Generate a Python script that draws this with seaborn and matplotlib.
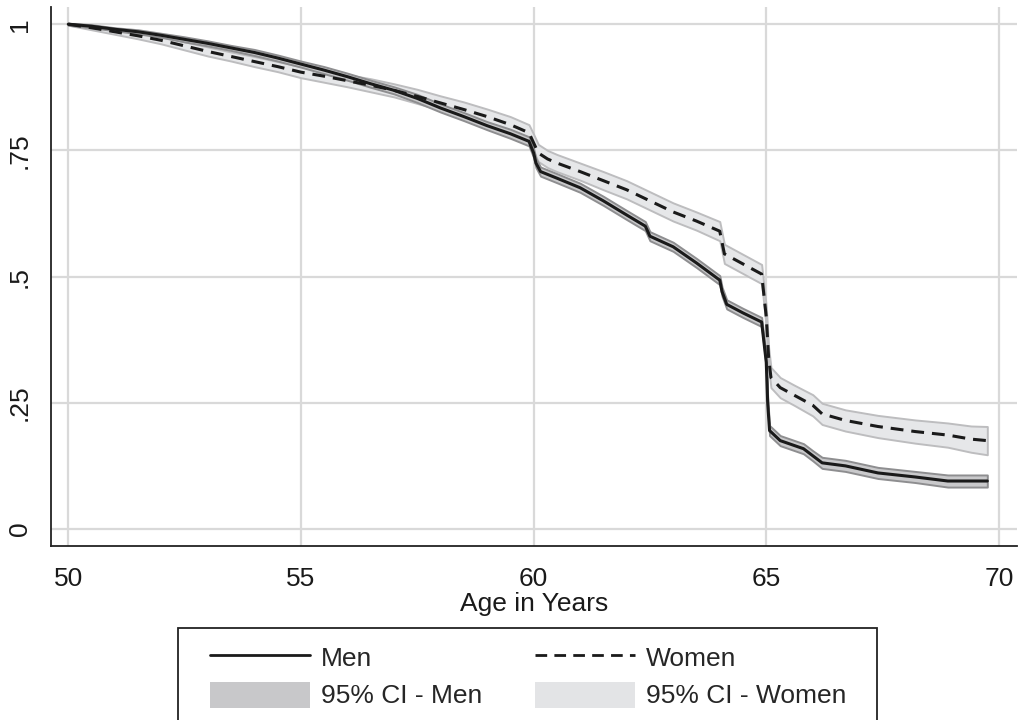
import matplotlib
matplotlib.use('Agg')
import matplotlib.pyplot as plt
from matplotlib.lines import Line2D
from matplotlib.patches import Patch, Rectangle
import numpy as np
import seaborn as sns

# Kaplan-Meier survival estimates
men_age = [50.0, 50.5, 51.0, 51.5, 52.0, 52.5, 53.0, 53.5, 54.0, 54.5,
           55.0, 55.5, 56.0, 56.5, 57.0, 57.5, 58.0, 58.5, 59.0, 59.5,
           59.9, 60.0, 60.05, 60.15, 60.5, 61.0, 61.5, 62.0, 62.4, 62.5,
           63.0, 63.5, 64.0, 64.05, 64.15, 64.5, 64.9, 65.0, 65.03, 65.07,
           65.3, 65.8, 66.0, 66.2, 66.7, 67.4, 68.2, 68.9, 69.75]
men_surv = [1.000, 0.996, 0.990, 0.985, 0.978, 0.970, 0.962, 0.953, 0.944, 0.933,
            0.921, 0.909, 0.896, 0.882, 0.869, 0.853, 0.834, 0.817, 0.799, 0.783,
            0.768, 0.745, 0.725, 0.708, 0.695, 0.676, 0.650, 0.622, 0.600, 0.580,
            0.559, 0.527, 0.493, 0.470, 0.445, 0.428, 0.410, 0.330, 0.250, 0.195,
            0.175, 0.159, 0.145, 0.131, 0.125, 0.111, 0.103, 0.095, 0.095]
# half-width of the 95% CI band
men_ci = [0.002, 0.003, 0.003, 0.004, 0.004,
          0.005, 0.005, 0.005, 0.006, 0.006, 0.006,
          0.007, 0.007, 0.007, 0.007, 0.008, 0.008, 0.008, 0.008, 0.009, 0.009,
          0.009, 0.009, 0.009, 0.009, 0.009, 0.009, 0.009, 0.009,
          0.009, 0.009, 0.009, 0.009, 0.009, 0.009, 0.009, 0.009,
          0.010, 0.010, 0.010, 0.010, 0.010, 0.010, 0.011, 0.011, 0.011, 0.011, 0.012, 0.012]

women_age = [50.0, 50.5, 51.0, 51.5, 52.0, 52.5, 53.0, 53.5, 54.0, 54.5,
             55.0, 55.5, 56.0, 56.5, 57.0, 57.5, 58.0, 58.5, 59.0, 59.5,
             59.9, 60.0, 60.1, 60.3, 60.5, 61.0, 61.5, 62.0, 62.5, 63.0,
             63.5, 64.0, 64.1, 64.5, 64.9, 65.0, 65.05, 65.1, 65.3, 65.6,
             66.0, 66.2, 66.7, 67.4, 68.2, 68.9, 69.4, 69.75]
women_surv = [1.000, 0.993, 0.985, 0.977, 0.968, 0.957, 0.946, 0.936, 0.926, 0.916,
              0.905, 0.897, 0.888, 0.879, 0.869, 0.857, 0.844, 0.831, 0.817, 0.801,
              0.785, 0.765, 0.745, 0.733, 0.725, 0.708, 0.690, 0.672, 0.650, 0.628,
              0.610, 0.590, 0.545, 0.525, 0.505, 0.420, 0.340, 0.300, 0.280, 0.265,
              0.245, 0.228, 0.215, 0.203, 0.193, 0.186, 0.178, 0.175]
women_ci = [0.002, 0.004, 0.005, 0.006, 0.007,
            0.008, 0.009, 0.009, 0.010, 0.010, 0.011,
            0.012, 0.012, 0.013, 0.013, 0.014, 0.014, 0.015, 0.015, 0.016, 0.016,
            0.017, 0.017, 0.017, 0.017, 0.017, 0.018, 0.018, 0.018, 0.018, 0.018,
            0.019, 0.019, 0.019, 0.019,
            0.020, 0.020, 0.020, 0.020, 0.020, 0.021, 0.021, 0.021, 0.022, 0.023,
            0.024, 0.026, 0.028]

x_ticks = [50, 55, 60, 65, 70]
y_ticks = [0, 0.25, 0.5, 0.75, 1]
y_tick_labels = ['0', '.25', '.5', '.75', '1']

sns.set_style('white')
plt.rcParams['font.family'] = ['Liberation Sans', 'DejaVu Sans']
fs = 19

fig = plt.figure(figsize=(10.19, 7.2), dpi=100)
ax = fig.add_axes([0.050, 0.2417, 0.948, 0.7483])

men_lo = np.array(men_surv) - np.array(men_ci)
men_hi = np.array(men_surv) + np.array(men_ci)
women_lo = np.array(women_surv) - np.array(women_ci)
women_hi = np.array(women_surv) + np.array(women_ci)

ax.fill_between(women_age, women_lo, women_hi, facecolor='#e6e7e9',
                edgecolor='#bdbdbf', linewidth=1.4, zorder=2)
ax.fill_between(men_age, men_lo, men_hi, facecolor='#c9c9cb',
                edgecolor='#8e8e90', linewidth=1.4, zorder=3)

dash = (0, (4.2, 2.6))
sns.lineplot(x=men_age, y=men_surv, ax=ax, color='#1a1a1a',
             linewidth=2.2, estimator=None, zorder=4)
sns.lineplot(x=women_age, y=women_surv, ax=ax, color='#1a1a1a',
             linewidth=2.2, linestyle=dash, estimator=None, zorder=4)

ax.set_xlim(49.628, 70.387)
ax.set_ylim(-0.0337, 1.0337)
ax.set_xticks(x_ticks)
ax.set_yticks(y_ticks)
ax.set_yticklabels(y_tick_labels, rotation=90, va='center')
ax.grid(True, color='#d9d9d9', linewidth=1.6, zorder=0)
ax.set_axisbelow(True)

for side in ['top', 'right']:
    ax.spines[side].set_visible(False)
for side in ['left', 'bottom']:
    ax.spines[side].set_color('#222222')
    ax.spines[side].set_linewidth(1.3)

ax.tick_params(axis='both', direction='out', length=7, width=1.2, color='#222222',
               labelsize=fs, labelcolor='#1a1a1a', pad=7)
ax.tick_params(axis='x', pad=8)
ax.set_xlabel('Age in Years', fontsize=fs, color='#1a1a1a', labelpad=1)
ax.set_ylabel('')

# legend frame drawn separately so the padding matches the original box
W, H = 1019, 720
fig.patches.append(Rectangle((178 / W, -0.01), (877 - 178) / W, (720 - 628) / H + 0.01,
                             transform=fig.transFigure, facecolor='white',
                             edgecolor='#222222', linewidth=1.3, zorder=0))

handles = [Line2D([], [], color='#1a1a1a', linewidth=2.0),
           Patch(facecolor='#c8c8ca', edgecolor='none'),
           Line2D([], [], color='#1a1a1a', linewidth=2.0, linestyle=dash),
           Patch(facecolor='#e3e4e6', edgecolor='none')]
labels = ['Men', '95% CI - Men', 'Women', '95% CI - Women']
fig.legend(handles, labels, loc='upper left', bbox_to_anchor=(210 / W, 1 - 644 / H),
           ncol=2, fontsize=fs, frameon=False,
           handlelength=3.8, handleheight=1.14, handletextpad=0.4,
           columnspacing=2.0, labelspacing=0.4, borderpad=0.0, borderaxespad=0.0)

plt.savefig('out.png', dpi=100)
